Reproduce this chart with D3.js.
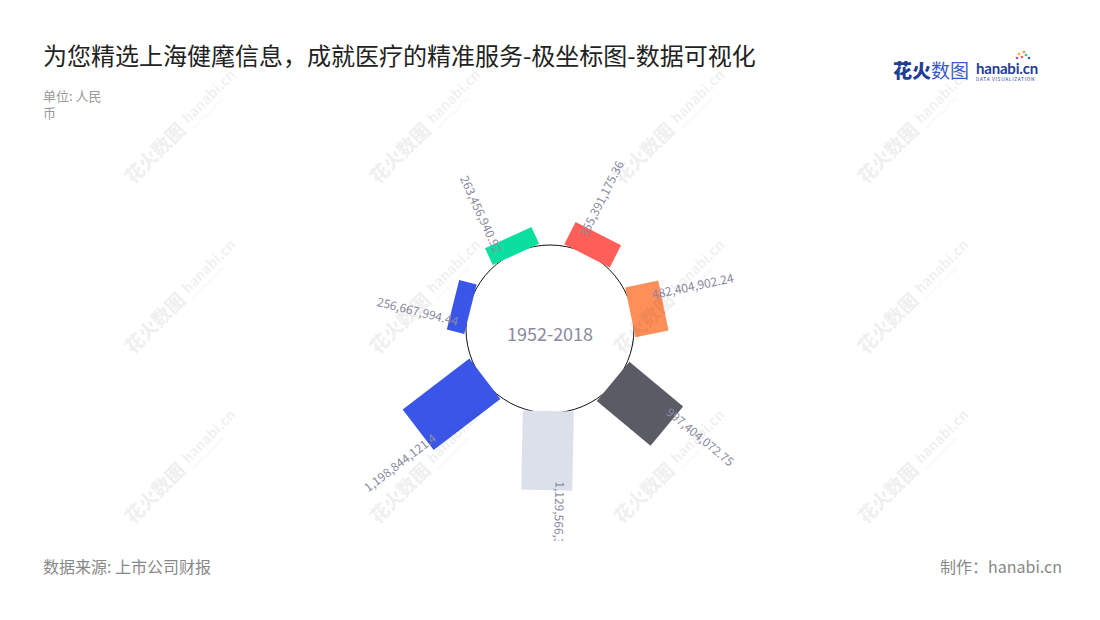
<!DOCTYPE html>
<html><head><meta charset="utf-8">
<script src="https://cdn.jsdelivr.net/npm/d3@7"></script>
<style>
body{margin:0;background:#fff;}
svg{display:block;font-family:"Noto Sans CJK SC","Noto Sans",sans-serif;}
</style>
</head><body>
<svg id="chart" width="1100" height="620"></svg>
<script>
// ---- data ----
const categories = ["类别1","类别2","类别3","类别4","类别5","类别6","类别7"];
const values = [256667994.44, 263456940.92, 355391175.36, 482404902.24, 997404072.75, 1129566320.52, 1198844121.4];
const palette = ["#3A56E9","#0BDF9F","#FF5F58","#FF8F59","#5B5B66","#DCE0EA"];
const centerLabel = "1952-2018";
const titleText = "为您精选上海健麾信息，成就医疗的精准服务-极坐标图-数据可视化";
const unitLines = ["单位: 人民","币"];
const sourceText = "数据来源: 上市公司财报";
const creditText = "制作：hanabi.cn";

// ---- layout ----
const W = 1100, H = 620;
const cx = 550, cy = 329;
const innerR = 82, circleR = 84, maxLen = 84;
const startDeg = 168.3;      // screen degrees, clockwise from +x
const barWidth = 51;
const labelColor = "#8A8AA0";

const svg = d3.select("#chart");

const angle = d3.scaleBand().domain(categories).range([startDeg, startDeg + 360]);
const radius = d3.scaleLinear().domain([0, d3.max(values)]).range([innerR, innerR + maxLen]);
const color = d3.scaleOrdinal().domain(categories).range(categories.map((c,i)=>palette[i % palette.length]));
const fmt = v => v.toLocaleString("en-US", {maximumFractionDigits: 2});
const mid = c => angle(c) + angle.bandwidth()/2;

const data = categories.map((c,i)=>({cat:c, value:values[i]}));

// titles
svg.append("text").attr("x",43).attr("y",65).attr("font-size",24).attr("fill","#222").text(titleText);
svg.selectAll("text.unit").data(unitLines).join("text").attr("class","unit")
  .attr("x",43).attr("y",(d,i)=>101+i*17).attr("font-size",13).attr("fill","#999").text(d=>d);
svg.append("text").attr("x",43).attr("y",573).attr("font-size",16).attr("fill","#888").text(sourceText);
svg.append("text").attr("x",1062).attr("y",573).attr("font-size",16).attr("fill","#888").attr("text-anchor","end").text(creditText);

// logo
const logo = svg.append("g").attr("transform","translate(893,78)");
logo.append("text").attr("x",0).attr("y",0).attr("font-size",19).attr("font-weight",900).attr("fill","#1F3D95").text("花火");
logo.append("text").attr("x",38).attr("y",0).attr("font-size",19).attr("font-weight",400).attr("fill","#3B5AC8").text("数图");
logo.append("text").attr("x",83).attr("y",-4).attr("font-size",15).attr("font-weight",700).attr("fill","#1F3D95")
  .attr("font-family","Lato, sans-serif").attr("letter-spacing",-0.2).text("hanabi.cn");
logo.append("text").attr("x",83).attr("y",3).attr("font-size",4.8).attr("fill","#1F3D95").attr("letter-spacing",0.7).text("DATA VISUALIZATION");
[["#FF5F58",129,-21],["#0BDF9F",133,-23],["#FFB400",126,-24],["#3A56E9",136,-20],["#FF8F59",131,-26],["#B04BE0",124,-20]].forEach(d=>{
  logo.append("circle").attr("cx",d[1]).attr("cy",d[2]).attr("r",1.3).attr("fill",d[0]);
});

// chart
const clip = svg.append("clipPath").attr("id","clipArea");
clip.append("rect").attr("x",0).attr("y",130).attr("width",W).attr("height",411);
const chart = svg.append("g").attr("clip-path","url(#clipArea)");
const g = chart.append("g").attr("transform",`translate(${cx},${cy})`);

g.append("circle").attr("r",circleR).attr("fill","#fff").attr("stroke","#111").attr("stroke-width",1);

const bars = g.selectAll("g.bar").data(data).join("g").attr("class","bar")
  .attr("transform", d => `rotate(${mid(d.cat)})`);
bars.append("rect")
  .attr("x", innerR).attr("y", -barWidth/2)
  .attr("width", d => radius(d.value) - innerR).attr("height", barWidth)
  .attr("fill", d => color(d.cat));

bars.append("text")
  .attr("font-size",12).attr("fill",labelColor)
  .attr("dominant-baseline","central")
  .each(function(d){
    const a = mid(d.cat) * Math.PI / 180;
    const right = Math.cos(a) > -0.1;
    const x = radius(d.value) - 9, y = -14;
    d3.select(this).attr("x",x).attr("y",y)
      .attr("text-anchor", right ? "start" : "end")
      .attr("transform", right ? null : `rotate(180,${x},${y})`);
  })
  .text(d => fmt(d.value));

g.append("text").attr("x",0).attr("y",4).attr("text-anchor","middle").attr("dominant-baseline","central")
  .attr("font-size",18).attr("fill",labelColor).text(centerLabel);

// watermarks
const wm = svg.append("g").attr("opacity",0.06).attr("pointer-events","none");
const wmX = [133,378,622,866], wmY = [185,355,525];
wmY.forEach(y=>wmX.forEach(x=>{
  const m = wm.append("g").attr("transform",`translate(${x},${y}) rotate(-45)`);
  m.append("text").attr("font-size",19).attr("font-weight",900).attr("fill","#000").text("花火数图");
  m.append("text").attr("x",82).attr("y",-4).attr("font-size",14).attr("font-weight",700).attr("fill","#000").text("hanabi.cn");
  m.append("text").attr("x",82).attr("y",4).attr("font-size",4.5).attr("fill","#000").text("DATA VISUALIZATION");
}));
</script>
</body></html>
